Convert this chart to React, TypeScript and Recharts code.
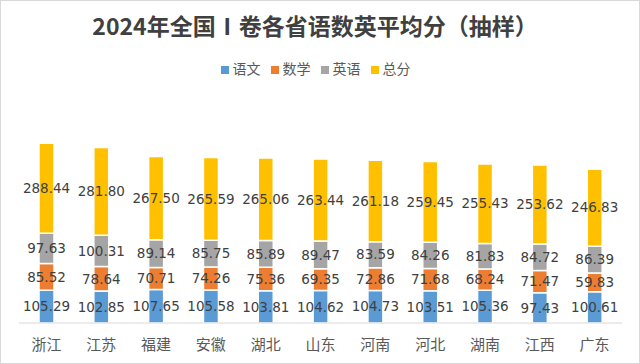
import React from "react";
import { BarChart, Bar, XAxis, YAxis, Legend, LabelList } from "recharts";

const PROVINCES = ["浙江", "江苏", "福建", "安徽", "湖北", "山东", "河南", "河北", "湖南", "江西", "广东"];
const CHINESE = [105.29, 102.85, 107.65, 105.58, 103.81, 104.62, 104.73, 103.51, 105.36, 97.43, 100.61];
const MATH = [85.52, 78.64, 70.71, 74.26, 75.36, 69.35, 72.86, 71.68, 68.24, 71.47, 59.83];
const ENGLISH = [97.63, 100.31, 89.14, 85.75, 85.89, 89.47, 83.59, 84.26, 81.83, 84.72, 86.39];
const TOTAL = [288.44, 281.8, 267.5, 265.59, 265.06, 263.44, 261.18, 259.45, 255.43, 253.62, 246.83];

const SERIES = [
  { key: "chinese", name: "语文", color: "#5B9BD5" },
  { key: "math", name: "数学", color: "#ED7D31" },
  { key: "english", name: "英语", color: "#A5A5A5" },
  { key: "total", name: "总分", color: "#FFC000" },
];

const data = PROVINCES.map((p, i) => ({
  province: p,
  chinese: CHINESE[i],
  math: MATH[i],
  english: ENGLISH[i],
  total: TOTAL[i],
}));

const fmt = (v: number) => v.toFixed(2);

// keep legend in series order (语文 数学 英语 总分)
const legendOrder = (item: { value?: string }) =>
  SERIES.findIndex((s) => s.name === item.value);

export default function App() {
  return (
    <div style={{ position: "relative", width: 640, height: 364, background: "#fff", fontFamily: "'Noto Sans CJK SC', sans-serif" }}>
      <style>{`body{margin:0}`}</style>
      <div
        style={{
          position: "absolute",
          top: 11,
          left: 0,
          width: 630,
          textAlign: "center",
          fontSize: 23,
          fontWeight: 700,
          color: "#404040",
          lineHeight: "28px",
        }}
      >
        2024年全国Ⅰ卷各省语数英平均分（抽样）
      </div>
      <BarChart
        width={640}
        height={364}
        data={data}
        margin={{ top: 85, right: 18, left: 19, bottom: 11 }}
        barSize={15}
      >
        <Legend
          verticalAlign="top"
          align="center"
          iconType="square"
          iconSize={8}
          itemSorter={legendOrder}
          wrapperStyle={{ top: 58, fontSize: 14 }}
          formatter={(value) => <span style={{ color: "#595959" }}>{value}</span>}
        />
        <XAxis
          dataKey="province"
          axisLine={{ stroke: "#d9d9d9" }}
          tickLine={false}
          tickMargin={10}
          height={30}
          tick={{ fontSize: 15, fill: "#595959" }}
        />
        <YAxis hide domain={[0, 700]} />
        {SERIES.map((s) => (
          <Bar
            key={s.key}
            dataKey={s.key}
            name={s.name}
            stackId="a"
            fill={s.color}
            stroke="#fff"
            strokeWidth={1.5}
            isAnimationActive={false}
          >
            <LabelList
              dataKey={s.key}
              position="center"
              formatter={fmt}
              style={{ fontSize: 13.5, fill: "#404040", fontFamily: "'DejaVu Sans', sans-serif" }}
            />
          </Bar>
        ))}
      </BarChart>
      <div style={{ position: "absolute", inset: 0, border: "1px solid #d9d9d9", pointerEvents: "none" }} />
    </div>
  );
}
